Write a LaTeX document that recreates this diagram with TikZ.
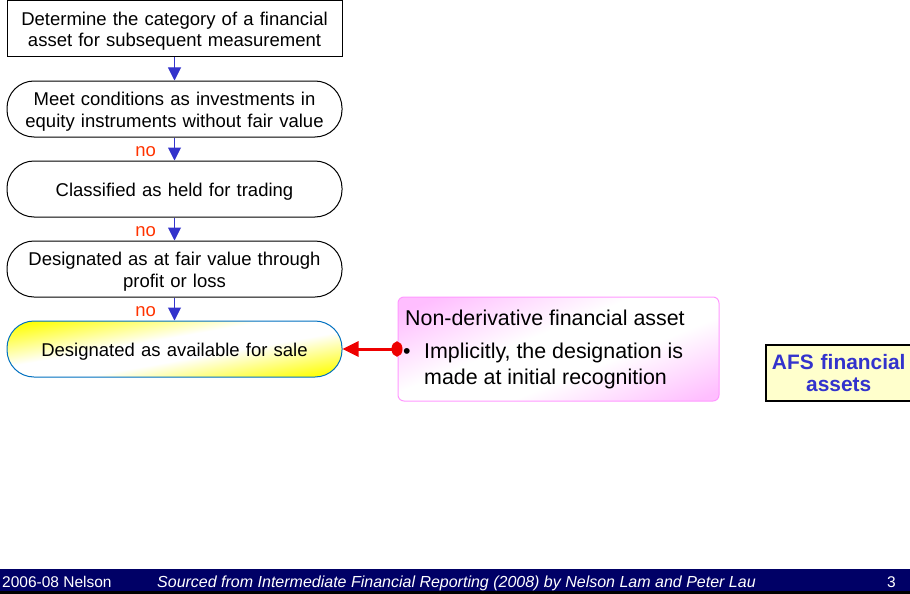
\documentclass[tikz,border=0pt]{standalone}
\usepackage{fontspec}
\setmainfont{Liberation Sans}
\usetikzlibrary{arrows.meta}

\definecolor{flowblue}{RGB}{51,51,204}
\definecolor{noRed}{RGB}{255,51,0}
\definecolor{afsBorder}{RGB}{0,112,192}
\definecolor{noteBorder}{RGB}{255,153,255}
\definecolor{notePink}{RGB}{255,190,255}
\definecolor{afsFill}{RGB}{255,255,204}
\definecolor{footNavy}{RGB}{0,0,102}
\definecolor{linkRed}{RGB}{238,0,0}

% mirrored diagonal sweeps: coloured at two opposite corners, white through the middle
\pgfdeclareverticalshading{yellowsweep}{100bp}{color(0bp)=(yellow); color(23bp)=(yellow); color(44bp)=(white); color(56bp)=(white); color(77bp)=(yellow); color(100bp)=(yellow)}
\pgfdeclareverticalshading{pinksweep}{100bp}{color(0bp)=(notePink); color(20bp)=(notePink); color(41bp)=(white); color(56bp)=(white); color(78bp)=(notePink); color(100bp)=(notePink)}

\begin{document}
\begin{tikzpicture}[x=1pt,y=-1pt,
  txt/.style={font=\fontsize{18.5}{21.5}\selectfont},
  flowbox/.style={draw=black, line width=1pt, minimum width=335pt, minimum height=56pt,
    text width=325pt, align=center, inner sep=0pt, text height=18.5pt, txt},
  stadium/.style={flowbox, rounded corners=27pt},
  flowarrow/.style={draw=flowblue, line width=1pt, -{Triangle[width=13pt,length=13pt]}},
  nolabel/.style={text=noRed, txt, inner sep=0pt, anchor=east, pos=0.6, xshift=-18pt},
  redlink/.style={draw=linkRed, line width=3pt,
    {Ellipse[width=15pt,length=11pt]}-{Triangle[width=15pt,length=16pt]}},
  notebox/.style={draw=noteBorder, line width=1pt, rounded corners=6pt,
    minimum width=321pt, minimum height=104pt, shade, shading=pinksweep, shading angle=22},
  notetext/.style={inner sep=0pt, anchor=base west, font=\fontsize{21.4}{25}\selectfont},
  afsbox/.style={draw=black, line width=1.5pt, fill=afsFill, minimum width=145.5pt,
    minimum height=56pt, text width=140pt, align=center, inner sep=0pt,
    text=flowblue, font=\fontsize{20.9}{22}\selectfont\bfseries},
  foottext/.style={text=white, inner sep=0pt, font=\fontsize{15.5}{18}\selectfont}]

\useasboundingbox (0,0) rectangle (910,594);

% decision chain
\node[flowbox] (b1) at (174.5,28.5) {Determine the category of a financial\\asset for subsequent measurement};
\node[stadium] (b2) at (174.5,109) {Meet conditions as investments in\\equity instruments without fair value};
\node[stadium] (b3) at (174.5,189) {Classified as held for trading};
\node[stadium] (b4) at (174.5,269) {Designated as at fair value through\\profit or loss};
\node[stadium, draw=afsBorder, shade, shading=yellowsweep, shading angle=10] (b5) at (174.5,349)
  {Designated as available for sale};

\draw[flowarrow] (b1) -- (b2);
\draw[flowarrow] (b2) -- node[nolabel]{no} (b3);
\draw[flowarrow] (b3) -- node[nolabel]{no} (b4);
\draw[flowarrow] (b4) -- node[nolabel]{no} (b5);

% explanatory note
\node[notebox] (note) at (558.5,349) {};
\node[notetext] (n1) at (405,325) {Non-derivative financial asset};
\node[notetext] (n2) at (403,358) {\textbullet};
\node[notetext] (n3) at (424,358) {Implicitly, the designation is};
\node[notetext] (n4) at (424,384) {made at initial recognition};
\draw[redlink] ([xshift=5pt]note.west) -- (b5.east);

% outcome
\node[afsbox] (afs) at (838.75,373) {AFS financial\\assets};

% footer band
\fill[footNavy] (0,569) rectangle (910,591);
\fill[black] (0,591) rectangle (910,594);
\node[foottext, anchor=base west] (f1) at (2,587) {2006-08 Nelson};
\node[foottext, anchor=base west, font=\fontsize{16}{18}\selectfont\itshape] (f2) at (157,587) {Sourced from Intermediate Financial Reporting (2008) by Nelson Lam and Peter Lau};
\node[foottext, anchor=base east] (f3) at (896,587) {3};
\end{tikzpicture}
\end{document}
